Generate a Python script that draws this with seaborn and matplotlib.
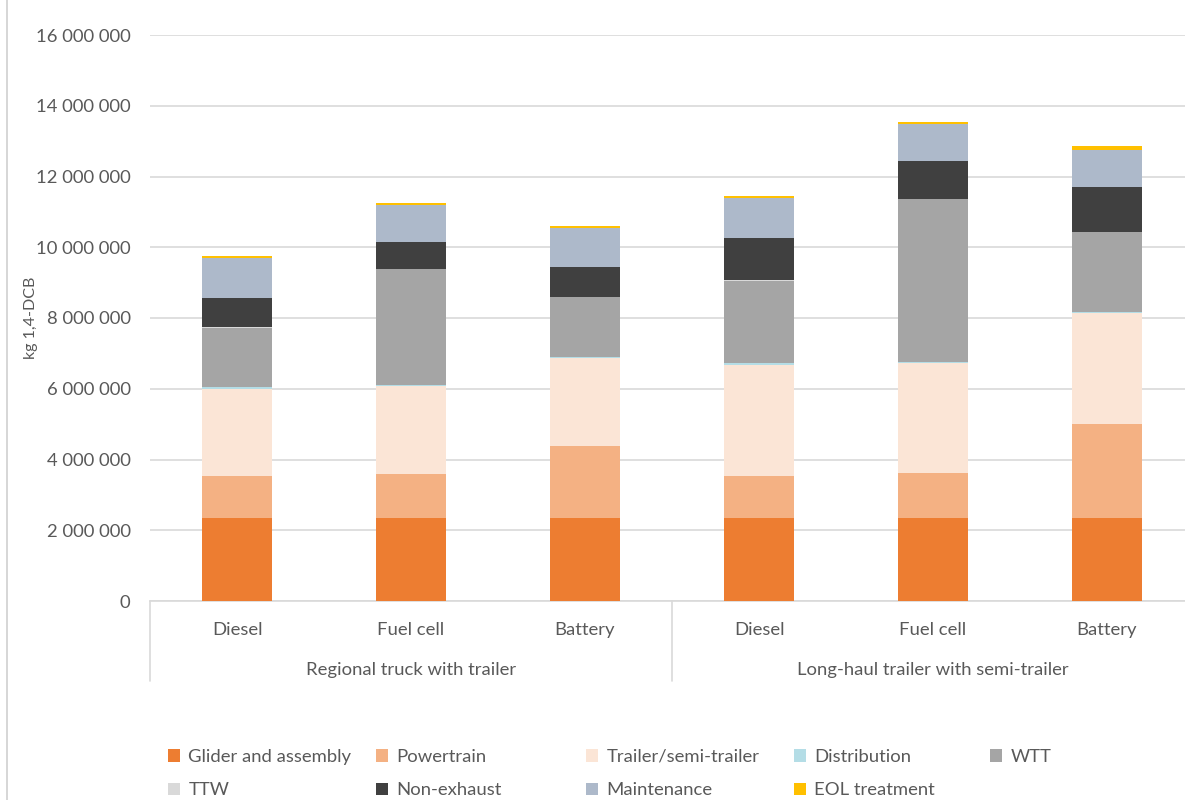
import matplotlib
matplotlib.use("Agg")
import matplotlib.pyplot as plt
import matplotlib.transforms as mtransforms
from matplotlib.patches import Patch
from matplotlib.lines import Line2D
import numpy as np
import pandas as pd
import seaborn as sns

# ---------------- data ----------------
groups = ["Regional truck with trailer", "Long-haul trailer with semi-trailer"]
drivetrains = ["Diesel", "Fuel cell", "Battery"]

components = ["Glider and assembly", "Powertrain", "Trailer/semi-trailer", "Distribution",
              "WTT", "TTW", "Non-exhaust", "Maintenance", "EOL treatment"]

# values in kg 1,4-DCB, order: Reg Diesel, Reg FC, Reg Battery, LH Diesel, LH FC, LH Battery
glider       = [2350000, 2350000, 2350000, 2350000, 2350000, 2350000]
powertrain   = [1180000, 1250000, 2040000, 1170000, 1270000, 2650000]
trailer      = [2470000, 2470000, 2470000, 3150000, 3110000, 3130000]
distribution = [40000, 40000, 40000, 50000, 40000, 50000]
wtt          = [1680000, 3280000, 1700000, 2330000, 4590000, 2250000]
ttw          = [20000, 0, 0, 30000, 0, 0]
non_exhaust  = [830000, 760000, 840000, 1180000, 1080000, 1270000]
maintenance  = [1130000, 1040000, 1100000, 1130000, 1040000, 1050000]
eol          = [40000, 50000, 70000, 60000, 70000, 110000]

colors = ["#ED7D31", "#F4B183", "#FBE5D6", "#B4DDE6", "#A5A5A5",
          "#D9D9D9", "#404040", "#ADB9CA", "#FFC000"]

series = [glider, powertrain, trailer, distribution, wtt, ttw, non_exhaust, maintenance, eol]

keys = [f"{g}|{d}" for g in groups for d in drivetrains]
df = pd.DataFrame({"key": keys})
cum = np.zeros(len(keys))
for name, vals in zip(components, series):
    cum = cum + np.array(vals, dtype=float)
    df[name] = cum.copy()

# ---------------- figure ----------------
sns.set_theme(style="white")
plt.rcParams["font.family"] = ["Lato", "DejaVu Sans"]

FS = 13.3
TXT = "#595959"
W, H = 1185, 800
fig = plt.figure(figsize=(W / 100, H / 100), dpi=100)
ax_left, ax_right, ax_top, ax_bot = 150, 1194, 35, 601
ax = fig.add_axes([ax_left / W, 1 - ax_bot / H, (ax_right - ax_left) / W, (ax_bot - ax_top) / H])

# stacked bars drawn from the top layer down (cumulative heights)
for name, col in reversed(list(zip(components, colors))):
    sns.barplot(data=df, x="key", y=name, order=keys, color=col, saturation=1,
                width=0.4, errorbar=None, ax=ax, linewidth=0, zorder=3)

ticks = np.arange(0, 16000001, 2000000)
ax.set_ylim(0, 16000000)
ax.set_xlim(-0.5, len(keys) - 0.5)
ax.set_yticks(ticks)
ax.set_yticklabels([f"{int(v):,}".replace(",", " ") for v in ticks], fontsize=FS, color=TXT)
ax.tick_params(axis="y", length=0, pad=14)
ax.yaxis.grid(True, color="#D9D9D9", linewidth=1.2, zorder=0)
ax.set_axisbelow(True)
for s in ["left", "right", "top"]:
    ax.spines[s].set_visible(False)
ax.spines["bottom"].set_color("#D9D9D9")
ax.spines["bottom"].set_linewidth(1.2)
ax.set_xticks([])
ax.set_xlabel("")
ax.set_ylabel("kg 1,4-DCB", fontsize=11.5, color=TXT)
ax.yaxis.set_label_coords(-112 / (ax_right - ax_left), 0.5)

# category & group labels
trans = mtransforms.blended_transform_factory(ax.transData, ax.transAxes)
hpx = ax_bot - ax_top
for i, k in enumerate(keys):
    ax.text(i, -29 / hpx, k.split("|")[1], transform=trans, ha="center", va="center",
            fontsize=FS, color=TXT)
for gi, g in enumerate(groups):
    ax.text(gi * 3 + 1, -69 / hpx, g, transform=trans, ha="center", va="center",
            fontsize=FS, color=TXT)
for xs in [-0.5, 2.5, 5.5]:
    ax.add_line(Line2D([xs, xs], [0, -80 / hpx], transform=trans, color="#D9D9D9",
                       linewidth=1.2, clip_on=False))

# figure left border line
fig.add_artist(Line2D([7 / W, 7 / W], [0, 1], transform=fig.transFigure, color="#D0D0D0", linewidth=1.2))

# legend: 5 columns laid out like Excel
cols_x = [168, 376, 586, 794, 990]
col_items = [[0, 5], [1, 6], [2, 7], [3, 8], [4]]
for cx, items in zip(cols_x, col_items):
    handles = [Patch(facecolor=colors[i], edgecolor="none") for i in items]
    labels = [components[i] for i in items]
    fig.legend(handles, labels, loc="upper left", bbox_to_anchor=(cx / W, 1 - 749 / H),
               frameon=False, fontsize=FS, handlelength=0.65, handleheight=0.65,
               handletextpad=0.45, borderpad=0, borderaxespad=0, labelspacing=0.93,
               labelcolor=TXT)

fig.savefig("out.png", dpi=100)
